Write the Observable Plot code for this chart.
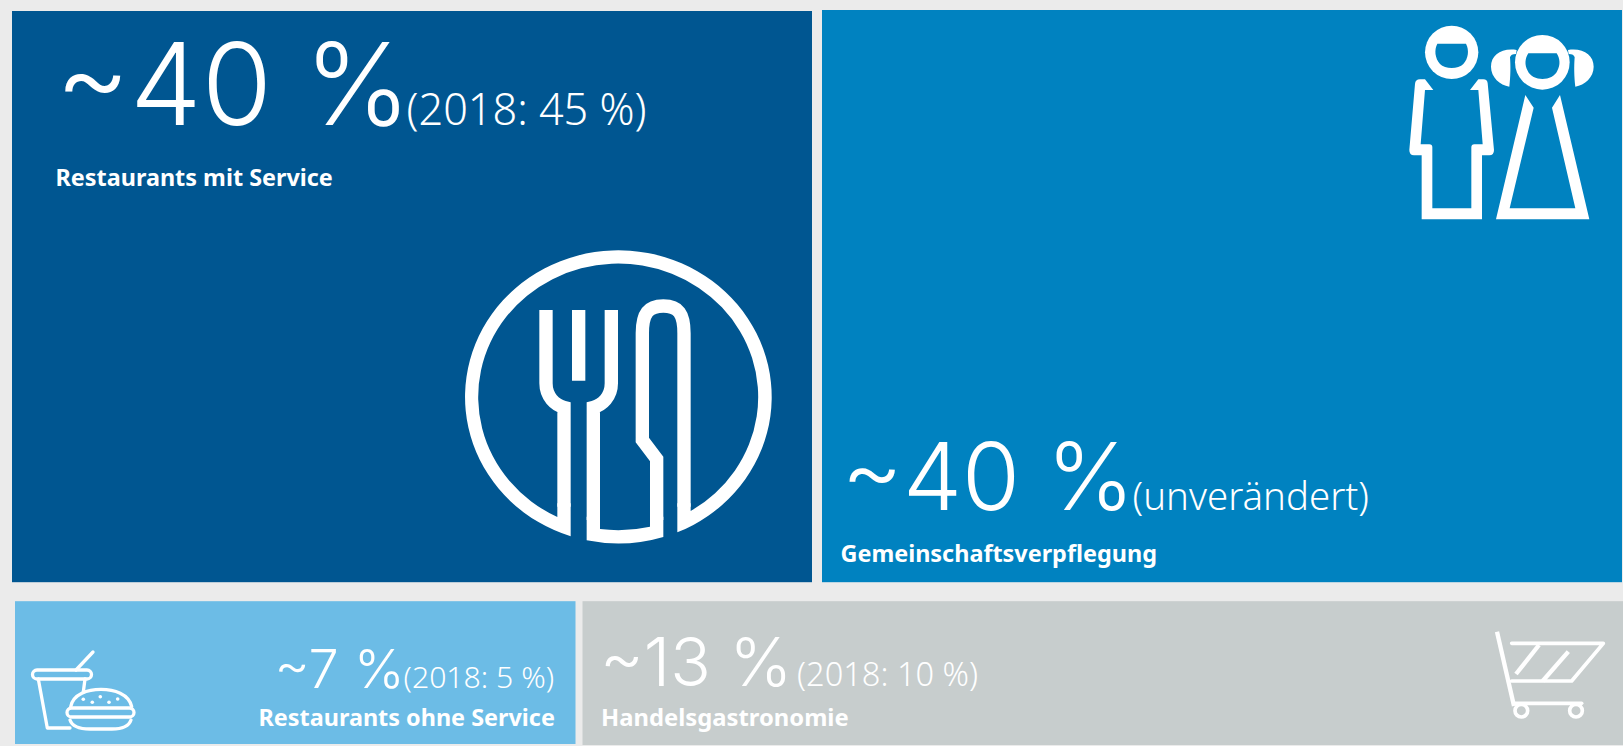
<!DOCTYPE html>
<html><head><meta charset="utf-8">
<script src="https://cdn.jsdelivr.net/npm/d3@7"></script>
<script src="https://cdn.jsdelivr.net/npm/@observablehq/plot@0.6"></script>
<style>html,body{margin:0;padding:0;background:#ebebeb;overflow:hidden}svg{display:block}</style>
</head><body><div id="chart"></div>
<script>
const segments = ["Restaurants mit Service","Gemeinschaftsverpflegung","Restaurants ohne Service","Handelsgastronomie"];
const shares = [40,40,7,13];
const shareLabels = ["~40 %","~40 %","~7 %","~13 %"];
const notes = ["(2018: 45 %)","(unverändert)","(2018: 5 %)","(2018: 10 %)"];
const colors = ["#005691","#0082c0","#6cbce6","#c7cdcd"];
// treemap layout from the values: two rows, each slice proportional
const rows = [[0,1],[2,3]];
const tiles = [];
let yc = 0;
for (const r of rows){
  const sum = d3.sum(r,i=>shares[i]); let xc = 0;
  for (const i of r){ tiles[i] = {i,name:segments[i],share:shareLabels[i],note:notes[i],x1:xc,x2:xc+shares[i]/sum*100,y1:yc,y2:yc+sum}; xc=tiles[i].x2; }
  yc += sum;
}
const ins = [{l:0,r:5,t:0,b:16},{l:5,r:0,t:-1,b:16},{l:3,r:0,t:3,b:1},{l:7,r:-1,t:3,b:0}];
const st = [
 {bx:43,by:113,fs:114,nx:394,nfs:43.2,lx:43,ly:174,lfs:23.4},
 {bx:24,by:498,fs:94,nx:315,nfs:38.4,lx:23,ly:550,lfs:23.4},
 {bx:262,by:89,fs:54,nx:391,nfs:30.2,lx:246,ly:127,lfs:23.4},
 {bx:24,by:87,fs:67,nx:221,nfs:32.6,lx:25,ly:127,lfs:23.8}
];
const F = "'Noto Sans',sans-serif";
const icon = (html)=>()=>{const g=d3.create("svg:g");g.html(html);return g.node();};
const forkKnife = `<g transform="translate(440 250) scale(.33333)" fill="none" stroke="#fff" stroke-width="40" stroke-linejoin="miter">
<path stroke="none" fill="#fff" d="M392,760V859A460,440 0 1 1 712,847V760H752V783A420,400 0 1 0 352,801V760Z"/>
<path stroke="none" fill="#fff" d="M440,800V871A460,440 0 0 0 670,861V800H630V830A420,400 0 0 1 480,837V800Z"/>
<path d="M318,180V400C318,440 345,465 372,472V770"/>
<path d="M514,180V400C514,440 487,465 460,472V810"/>
<path d="M416,180V392"/>
<path d="M650,810V627L607,570V250C607,190 625,168 670,168C715,168 732,190 732,250V770"/>
</g>`;
const kids = `<g transform="translate(1380 0) scale(.33333)" fill="#fff">
<circle cx="215" cy="157" r="80"/>
<path fill="#0082c0" d="M172,131H258C268,150 265,175 250,192C235,208 195,208 180,192C165,175 162,150 172,131Z"/>
<path d="M135,238L160,270H135L122,433H148Q157,433 157,442V625H274V442Q274,433 283,433H308L295,270H270L295,238H310Q322,238 323,250L342,450Q342,466 328,466H306V658H125V466H102Q88,466 88,450L105,252Q106,238 120,238Z"/>
<circle cx="487" cy="187" r="82"/>
<path fill="#0082c0" d="M445,160H530C540,175 542,195 532,212C518,245 457,245 443,212C433,195 435,175 445,160Z"/>
<path d="M410,150C365,143 333,165 333,200C333,232 360,255 388,260C392,230 392,195 390,172Q392,162 408,162Z"/>
<path d="M564,150C609,143 641,165 641,200C641,232 614,255 586,260C582,230 582,195 584,172Q582,162 566,162Z"/>
<path d="M436,285L461,323L389,625H586L516,323L540,285L628,658H348Z"/>
</g>`;
const cart = `<g transform="translate(1440 600) scale(.33333)" fill="none" stroke="#fff" stroke-width="11" stroke-linecap="round" stroke-linejoin="round">
<path stroke-width="13" stroke-linecap="butt" d="M171,95L222,318"/>
<path d="M215,130H490L395,243H215"/>
<path stroke-width="13" stroke-linecap="butt" d="M297,135L228,222"/>
<path stroke-width="13" stroke-linecap="butt" d="M385,155L308,243"/>
<path d="M222,310H425"/>
<circle cx="244" cy="332" r="19"/><circle cx="408" cy="332" r="19"/>
</g>`;
const burger = `<g fill="none" stroke="#fff" stroke-width="3.3" stroke-linecap="round" stroke-linejoin="round">
<rect x="32.5" y="670" width="59" height="9" rx="4.5"/>
<path d="M76,670L93,652"/>
<path d="M70,728H47.3L38.3,679"/><path d="M85,679L83.3,692"/>
<path d="M70.7,706.7C73,694 88,689.3 101,689.3C114,689.3 129,694 131.7,706.7"/>
<rect x="67" y="708" width="67" height="9" rx="4.5"/>
<path d="M70,720C72,726 78,729 90,729H112C124,729 129,726 131,720"/>
<g fill="#fff" stroke="none"><circle cx="83.3" cy="699.3" r="1.8"/><circle cx="92.3" cy="702.3" r="1.8"/><circle cx="100.3" cy="696.7" r="1.8"/><circle cx="109" cy="702.3" r="1.8"/><circle cx="117.7" cy="699" r="1.8"/></g>
</g>`;
const plot = Plot.plot({
  width:1623,height:746,margin:0,style:{background:"#ebebeb",fontFamily:F},
  x:{domain:[0,100],range:[12,1622],axis:null},
  y:{domain:[0,100],range:[11,745],axis:null},
  marks:[
    ...tiles.map((t,k)=>Plot.rect([t],{x1:"x1",x2:"x2",y1:"y1",y2:"y2",fill:colors[k],insetLeft:ins[k].l,insetRight:ins[k].r,insetTop:ins[k].t,insetBottom:ins[k].b})),
    ...tiles.flatMap((t,k)=>{const s=st[k];const c={x:"x1",y:"y1",textAnchor:"start",fill:"#fff",lineAnchor:"bottom"};return [
      Plot.text([t],{...c,text:"share",fontSize:s.fs,fontWeight:300,fontFamily:"Inter",dx:s.bx,dy:s.by}),
      Plot.text([t],{...c,text:"note",fontSize:s.nfs,fontWeight:300,dx:s.nx,dy:s.by}),
      Plot.text([t],{...c,text:"name",fontSize:s.lfs,fontWeight:700,dx:s.lx,dy:s.ly})
    ];}),
    icon(forkKnife),icon(kids),icon(cart),icon(burger)
  ]
});
document.getElementById("chart").append(plot);
</script></body></html>
